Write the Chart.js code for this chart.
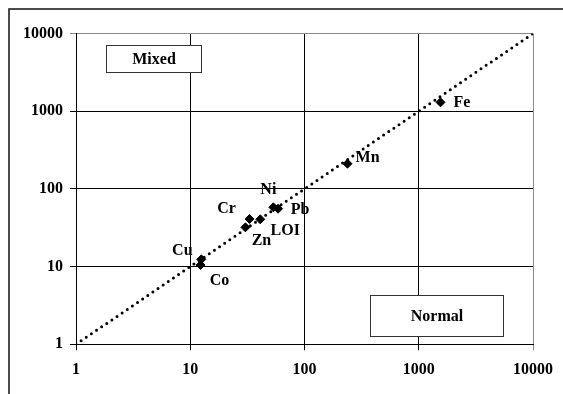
<!DOCTYPE html>
<html>
<head>
<meta charset="utf-8">
<script src="https://cdn.jsdelivr.net/npm/chart.js@4/dist/chart.umd.min.js"></script>
<style>
  html, body { margin: 0; padding: 0; background: #fff; }
  #wrap { position: relative; width: 563px; height: 394px; }
</style>
</head>
<body>
<div id="wrap"><canvas id="c" width="563" height="394"></canvas></div>
<script>
// ---- data ----
const elements = ['Fe', 'Mn', 'Ni', 'Pb', 'Cr', 'LOI', 'Zn', 'Cu', 'Co'];
const xValues  = [1550, 238, 53.4, 58.7, 33, 41, 30.4, 12.5, 12.3];
const yValues  = [1300, 211, 58, 55.6, 41, 40.6, 32, 12.4, 10.5];
const tickValues = [1, 10, 100, 1000, 10000];
const refLine = [1, 10000];
const boxTexts = ['Mixed', 'Normal'];

// ---- presentation ----
const FONT = 'bold 16px "Liberation Serif", "Times New Roman", serif';
const labelOffsets = {
  Fe: [13, 0, 'left'], Mn: [8, -7, 'left'], Ni: [-5, -18, 'center'],
  Pb: [22, 0, 'center'], Cr: [-23, -11, 'center'], LOI: [25, 11, 'center'],
  Zn: [16, 13, 'center'], Cu: [-19, -9, 'center'], Co: [19, 15, 'center']
};
const boxes = [
  { text: boxTexts[0], x: [1.83, 12.3], y: [3195, 7110] },
  { text: boxTexts[1], x: [375, 5430], y: [1.28, 4.31] }
];

const points = xValues.map((x, i) => ({ x: x, y: yValues[i] }));
const linePts = refLine.map(v => ({ x: v, y: v }));

const framePlugin = {
  id: 'frame',
  beforeDraw(chart) {
    const c = chart.ctx;
    c.save();
    c.fillStyle = '#fff';
    c.fillRect(0, 0, chart.width, chart.height);
    c.strokeStyle = '#111';
    c.lineWidth = 1.5;
    c.beginPath();
    c.moveTo(9, chart.height + 2);
    c.lineTo(9, 9);
    c.lineTo(chart.width + 2, 9);
    c.stroke();
    c.restore();
  }
};

const boxPlugin = {
  id: 'boxes',
  beforeDatasetsDraw(chart) {
    const c = chart.ctx, xs = chart.scales.x, ys = chart.scales.y;
    c.save();
    boxes.forEach(b => {
      const x0 = Math.round(xs.getPixelForValue(b.x[0])) + 0.5;
      const x1 = Math.round(xs.getPixelForValue(b.x[1])) + 0.5;
      const y0 = Math.round(ys.getPixelForValue(b.y[1])) + 0.5;
      const y1 = Math.round(ys.getPixelForValue(b.y[0])) + 0.5;
      c.fillStyle = '#fff';
      c.fillRect(x0, y0, x1 - x0, y1 - y0);
      c.strokeStyle = '#333';
      c.lineWidth = 1;
      c.strokeRect(x0, y0, x1 - x0, y1 - y0);
      c.fillStyle = '#000';
      c.font = FONT;
      c.textAlign = 'center';
      c.textBaseline = 'middle';
      c.fillText(b.text, (x0 + x1) / 2, (y0 + y1) / 2 + 1);
    });
    c.restore();
  }
};

const labelPlugin = {
  id: 'ptlabels',
  afterDatasetsDraw(chart) {
    const c = chart.ctx;
    const meta = chart.getDatasetMeta(1);
    c.save();
    c.font = FONT;
    c.fillStyle = '#000';
    c.textBaseline = 'middle';
    meta.data.forEach((pt, i) => {
      const name = elements[i];
      const o = labelOffsets[name];
      c.textAlign = o[2];
      c.fillText(name, pt.x + o[0], pt.y + o[1] + 1);
    });
    c.restore();
  }
};

const gridColor = (ctx) => (ctx.tick && ctx.tick.value === 10000) ? '#8a8a8a' : '#000';

new Chart(document.getElementById('c'), {
  type: 'scatter',
  data: {
    datasets: [
      {
        type: 'line',
        data: linePts,
        borderColor: '#000',
        borderWidth: 3,
        borderDash: [0, 6.2],
        borderCapStyle: 'round',
        pointRadius: 0,
        fill: false,
        tension: 0
      },
      {
        data: points,
        pointStyle: 'rectRot',
        pointRadius: 4.5,
        pointBackgroundColor: '#000',
        pointBorderColor: '#000',
        pointBorderWidth: 1
      }
    ]
  },
  options: {
    responsive: false,
    animation: false,
    devicePixelRatio: 1,
    layout: { padding: { left: 0, right: 28.7, top: 33.5, bottom: 0 } },
    plugins: { legend: { display: false }, tooltip: { enabled: false } },
    scales: {
      x: {
        type: 'logarithmic',
        min: 1, max: 10000,
        afterBuildTicks(s) { s.ticks = tickValues.map(v => ({ value: v })); },
        afterFit(s) { s.height = 49.7; },
        border: { display: true, color: '#000', width: 1 },
        grid: { color: gridColor, lineWidth: 1, tickLength: 6, drawTicks: true },
        ticks: {
          autoSkip: false, maxRotation: 0, padding: 10,
          color: '#000',
          font: { family: '"Liberation Serif", "Times New Roman", serif', size: 16, weight: 'bold' },
          callback: (v) => String(v)
        }
      },
      y: {
        type: 'logarithmic',
        min: 1, max: 10000,
        afterBuildTicks(s) { s.ticks = tickValues.map(v => ({ value: v })); },
        afterFit(s) { s.width = 76; },
        border: { display: true, color: '#000', width: 1 },
        grid: { color: gridColor, lineWidth: 1, tickLength: 6, drawTicks: true },
        ticks: {
          autoSkip: false, padding: 7,
          color: '#000',
          font: { family: '"Liberation Serif", "Times New Roman", serif', size: 16, weight: 'bold' },
          callback: (v) => String(v)
        }
      }
    }
  },
  plugins: [framePlugin, boxPlugin, labelPlugin]
});
</script>
</body>
</html>
